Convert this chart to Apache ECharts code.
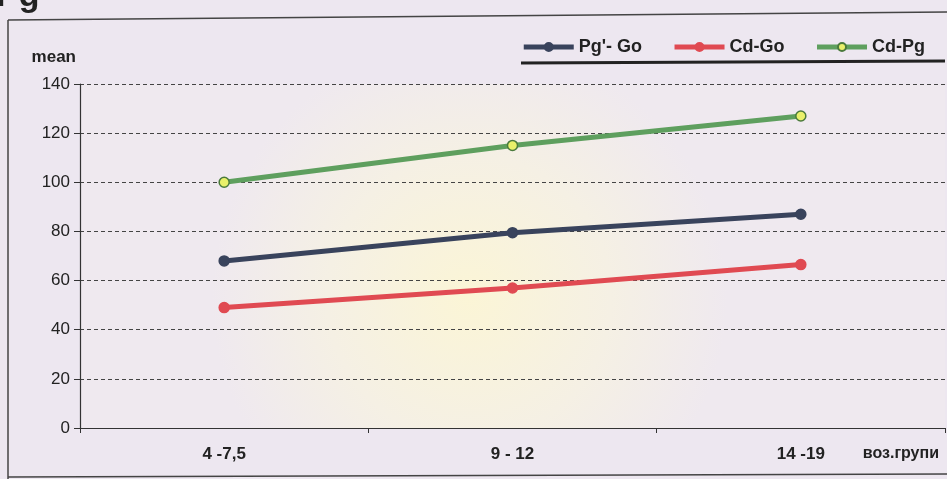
<!DOCTYPE html>
<html>
<head>
<meta charset="utf-8">
<script src="https://cdn.jsdelivr.net/npm/echarts@6/dist/echarts.min.js"></script>
<style>
  html, body { margin: 0; padding: 0; background: #ede7f0; }
  #chart { width: 947px; height: 479px; }
</style>
</head>
<body>
<div id="chart"></div>
<script>
	// age groups and mean values
	var groups = ['4 -7,5', '9 - 12', '14 -19'];
	var pgGo = [68, 79.5, 87];
	var cdGo = [49, 57, 66.5];
	var cdPg = [100, 115, 127];
	var yTicks = [0, 20, 40, 60, 80, 100, 120, 140];

	var chart = echarts.init(document.getElementById('chart'));
	var font = 'Liberation Sans, Arial, sans-serif';

	function lineSeries(name, data, color, markerFill, markerBorder){
		return {
			name: name,
			type: 'line',
			data: data,
			symbol: 'circle',
			symbolSize: 10,
			lineStyle: {color: color, width: 5},
			itemStyle: {color: markerFill, borderColor: markerBorder, borderWidth: 1.5},
			z: 5
		};
	}

	var option = {
		backgroundColor: '#ede7f0',
		animation: false,
		textStyle: {fontFamily: font},
		grid: {
			left: 80, right: 2, top: 84, bottom: 51,
			show: true,
			borderWidth: 0,
			backgroundColor: {
				type: 'radial', x: 0.45, y: 0.62, r: 0.75,
				colorStops: [
					{offset: 0, color: '#fbf5d6'},
					{offset: 0.55, color: '#f5f0e4'},
					{offset: 1, color: '#efe9ef'}
				]
			}
		},
		legend: {
			right: 17, top: 33,
			itemWidth: 50, itemHeight: 10, itemGap: 30,
			lineStyle: {width: 5},
			textStyle: {fontSize: 18, fontWeight: 'bold', color: '#222', fontFamily: font},
			data: ["Pg'- Go", 'Cd-Go', 'Cd-Pg']
		},
		xAxis: {
			type: 'category',
			data: groups,
			boundaryGap: true,
			name: 'воз.групи',
			nameLocation: 'end',
			nameGap: 0,
			nameTextStyle: {fontSize: 16, fontWeight: 'bold', color: '#222', align: 'right', verticalAlign: 'top', padding: [18, 6, 0, 0]},
			axisLine: {lineStyle: {color: '#333', width: 1.2}},
			axisTick: {show: true, length: 5, lineStyle: {color: '#333'}},
			axisLabel: {fontSize: 17, fontWeight: 'bold', color: '#222', margin: 18},
			splitLine: {show: false}
		},
		yAxis: {
			type: 'value',
			min: 0, max: 140, interval: 20,
			name: 'mean',
			nameLocation: 'end',
			nameGap: 18,
			nameTextStyle: {fontSize: 17, fontWeight: 'bold', color: '#222', align: 'right', padding: [0, 4, 0, 0]},
			axisLine: {show: true, lineStyle: {color: '#333', width: 1.2}},
			axisTick: {show: true, length: 6, lineStyle: {color: '#333'}},
			axisLabel: {fontSize: 17, color: '#222', margin: 10,
				formatter: function(v){ return yTicks.indexOf(v) >= 0 ? String(v) : ''; }},
			splitLine: {show: true, lineStyle: {color: '#444', type: [4, 3], width: 1}}
		},
		series: [
			lineSeries("Pg'- Go", pgGo, '#39435c', '#39435c', '#39435c'),
			lineSeries('Cd-Go', cdGo, '#e04a52', '#e04a52', '#e04a52'),
			lineSeries('Cd-Pg', cdPg, '#5e9f5e', '#e9f06a', '#4a7a3c')
		],
		graphic: [
			{type: 'text', left: -4, top: -20, style: {text: 'Pg', fontSize: 34, fontWeight: 'bold', fill: '#222', fontFamily: font}},
			{type: 'line', shape: {x1: 8, y1: 20, x2: 947, y2: 12}, style: {stroke: '#444', lineWidth: 1.5}},
			{type: 'line', shape: {x1: 8, y1: 20, x2: 8, y2: 479}, style: {stroke: '#444', lineWidth: 1.5}},
			{type: 'line', shape: {x1: 8, y1: 477, x2: 947, y2: 474}, style: {stroke: '#444', lineWidth: 1.5}},
			{type: 'line', shape: {x1: 521, y1: 63, x2: 945, y2: 61}, style: {stroke: '#222', lineWidth: 3}}
		]
	};

	chart.setOption(option);
</script>
</body>
</html>
